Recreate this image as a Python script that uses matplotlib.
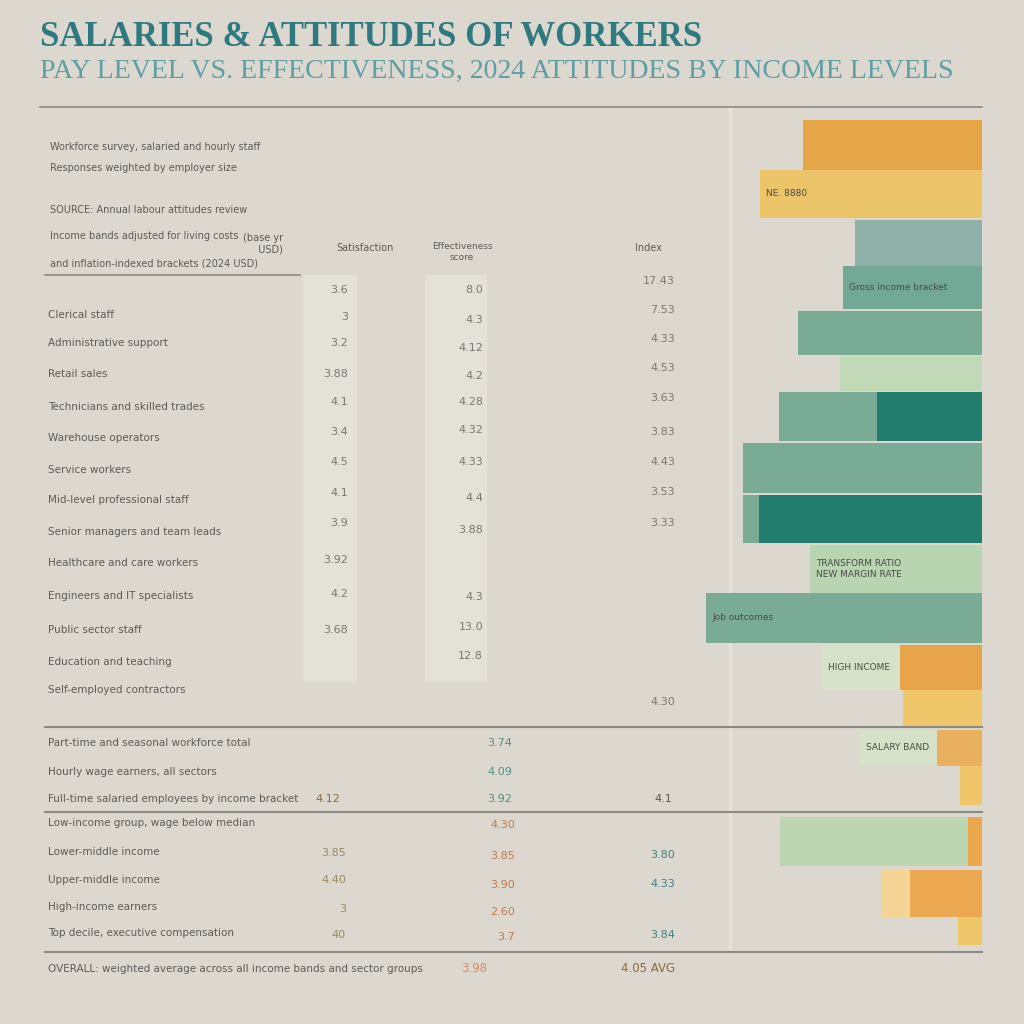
import matplotlib.pyplot as plt
import matplotlib.patches as mpatches

# ---- data ----
title = "SALARIES & ATTITUDES OF WORKERS"
subtitle = "PAY LEVEL VS. EFFECTIVENESS, 2024 ATTITUDES BY INCOME LEVELS"

notes = ["Workforce survey, salaried and hourly staff",
         "Responses weighted by employer size",
         "SOURCE: Annual labour attitudes review",
         "Income bands adjusted for living costs",
         "and inflation-indexed brackets (2024 USD)"]
note_box = "(base yr\n  USD)"

col_headers = ["Satisfaction", "Effectiveness\nscore", "Index"]

row_labels = ["Clerical staff", "Administrative support", "Retail sales",
              "Technicians and skilled trades", "Warehouse operators",
              "Service workers", "Mid-level professional staff",
              "Senior managers and team leads", "Healthcare and care workers",
              "Engineers and IT specialists", "Public sector staff",
              "Education and teaching", "Self-employed contractors"]
satisfaction = ["3.6", "3", "3.2", "3.88", "4.1", "3.4", "4.5", "4.1", "3.9",
                "3.92", "4.2", "3.68", ""]
effectiveness = ["8.0", "4.3", "4.12", "4.2", "4.28", "4.32", "4.33", "4.4",
                 "3.88", "", "4.3", "13.0", "12.8"]
index = ["17.43", "7.53", "4.33", "4.53", "3.63", "3.83", "4.43", "3.53",
         "3.33", "", "", "", "4.30"]

mid_labels = ["Part-time and seasonal workforce total",
              "Hourly wage earners, all sectors",
              "Full-time salaried employees by income bracket"]
mid_eff = ["3.74", "4.09", "3.92"]
mid_sat = ["", "", "4.12"]
mid_idx = ["", "", "4.1"]

low_labels = ["Low-income group, wage below median", "Lower-middle income",
              "Upper-middle income", "High-income earners",
              "Top decile, executive compensation"]
low_sat = ["3.85", "4.40", "3", "40"]
low_eff = ["4.30", "3.85", "3.90", "2.60", "3.7"]
low_idx = ["", "3.80", "4.33", "", "3.84"]

total_label = "OVERALL: weighted average across all income bands and sector groups"
total_eff = "3.98"
total_idx = "4.05 AVG"

# bars: (top px, bottom px, segments [(width, colour)])
bar_rows = [
    (120, 170, [(179, "#e5a64a")]),
    (170, 218, [(222, "#ecc56b")]),
    (220, 266, [(127, "#8fb0a8")]),
    (266, 309, [(139, "#72a896")]),
    (311, 355, [(184, "#7aab97")]),
    (356, 391, [(142, "#c2d9b8")]),
    (392, 441, [(203, "#7aab97"), (105, "#237d6e")]),
    (443, 493, [(239, "#7aab97")]),
    (495, 543, [(239, "#7aab97"), (223, "#237d6e")]),
    (545, 593, [(172, "#b8d4b0")]),
    (593, 643, [(276, "#7aab97")]),
    (645, 690, [(160, "#d5e2c8"), (82, "#e8a44a")]),
    (690, 727, [(79, "#f0c66a")]),
    (730, 766, [(122, "#d5e2c8"), (45, "#e9b060")]),
    (766, 805, [(22, "#f0c66a")]),
    (817, 866, [(202, "#bcd6b2"), (14, "#e9a84e")]),
    (870, 917, [(100, "#f3d596"), (72, "#eba850")]),
    (917, 945, [(24, "#f0c66a")]),
]
bar_notes = [(1, "NE. 8880"), (3, "Gross income bracket"),
             (9, "TRANSFORM RATIO\nNEW MARGIN RATE"), (10, "Job outcomes"),
             (11, "HIGH INCOME"), (13, "SALARY BAND")]

BG = "#dcd8cf"
INK = "#5a5a58"
TEAL = "#2e7a80"

fig = plt.figure(figsize=(10.24, 10.24), dpi=100, facecolor=BG)


def fx(x):
    return x / 1024


def fy(y):
    return 1 - y / 1024


def hline(y, x0, x1, lw=1.2, color="#8a8a86"):
    fig.add_artist(plt.Line2D([fx(x0), fx(x1)], [fy(y), fy(y)], lw=lw,
                              color=color, transform=fig.transFigure))


# titles
fig.text(fx(40), fy(38), title, fontsize=25, fontweight="bold",
         family="Liberation Serif", color=TEAL, va="center")
fig.text(fx(40), fy(71), subtitle, fontsize=20.1, family="Liberation Serif",
         color="#5f9ea5", va="center")

# rules
hline(107, 40, 982)
hline(275, 45, 300)
hline(727, 45, 982, lw=1.5)
hline(812, 45, 982, lw=1.5)
hline(952, 45, 982, lw=1.5)
fig.add_artist(plt.Line2D([fx(730), fx(730)], [fy(108), fy(950)], lw=2.5,
                          color="#e6e2da", transform=fig.transFigure,
                          zorder=-1))

# faint column panels
for x0, x1 in [(303, 356), (425, 486)]:
    fig.add_artist(mpatches.Rectangle((fx(x0), fy(680)), fx(x1 - x0),
                                      (680 - 275) / 1024, color="#e4e1d9",
                                      transform=fig.transFigure, zorder=-1))

# notes
for y, s in zip([147, 168, 210, 236, 263], notes):
    fig.text(fx(50), fy(y), s, fontsize=7, color=INK, va="center")
fig.text(fx(283), fy(244), note_box, fontsize=7, color=INK, ha="right",
         va="center")

# column headers
fig.text(fx(365), fy(248), col_headers[0], fontsize=7, color=INK,
         ha="center", va="center")
fig.text(fx(462), fy(252), col_headers[1], fontsize=6.5, color=INK,
         ha="center", va="center")
fig.text(fx(648), fy(248), col_headers[2], fontsize=7, color=INK,
         ha="center", va="center")

top_y = [315, 343, 374, 407, 438, 470, 500, 532, 563, 596, 630, 662, 690]
for y, lab in zip(top_y, row_labels):
    fig.text(fx(48), fy(y), lab, fontsize=7.5, color=INK, va="center")
sat_y = [290, 317, 343, 374, 402, 432, 462, 493, 523, 560, 594, 630, 662]
for y, v in zip(sat_y, satisfaction):
    fig.text(fx(348), fy(y), v, fontsize=8, color="#777773", ha="right",
             va="center")
eff_y = [290, 320, 348, 376, 402, 430, 462, 498, 530, 560, 597, 627, 656]
for y, v in zip(eff_y, effectiveness):
    fig.text(fx(483), fy(y), v, fontsize=8, color="#777773", ha="right",
             va="center")
idx_y = [281, 310, 339, 368, 398, 432, 462, 492, 523, 560, 630, 660, 702]
for y, v in zip(idx_y, index):
    fig.text(fx(675), fy(y), v, fontsize=8, color="#777773", ha="right",
             va="center")

for y, lab, e, s, ix in zip([743, 772, 799], mid_labels, mid_eff, mid_sat,
                            mid_idx):
    fig.text(fx(48), fy(y), lab, fontsize=7.5, color=INK, va="center")
    fig.text(fx(512), fy(y), e, fontsize=8, color="#4f8f86", ha="right",
             va="center")
    fig.text(fx(340), fy(y), s, fontsize=8, color="#8a6a3a", ha="right",
             va="center")
    fig.text(fx(672), fy(y), ix, fontsize=8, color=INK, ha="right",
             va="center")

for y, lab in zip([823, 852, 880, 907, 933], low_labels):
    fig.text(fx(48), fy(y), lab, fontsize=7.5, color=INK, va="center")
for y, s in zip([853, 880, 909, 935], low_sat):
    fig.text(fx(346), fy(y), s, fontsize=8, color="#9b8a5a", ha="right",
             va="center")
for y, e in zip([825, 856, 885, 912, 937], low_eff):
    fig.text(fx(515), fy(y), e, fontsize=8, color="#c07a4a", ha="right",
             va="center")
for y, ix in zip([825, 855, 884, 910, 935], low_idx):
    fig.text(fx(675), fy(y), ix, fontsize=8, color="#3f7f86", ha="right",
             va="center")

fig.text(fx(48), fy(969), total_label, fontsize=7.5, color=INK, va="center")
fig.text(fx(487), fy(969), total_eff, fontsize=8.5, color="#e08a4a",
         ha="right", va="center")
fig.text(fx(675), fy(969), total_idx, fontsize=8.5, color="#8a6a3a",
         ha="right", va="center")

# bar panel: bars grow leftwards from the right edge
ax = fig.add_axes([fx(700), fy(950), fx(282), (950 - 110) / 1024])
ax.set_facecolor("none")
for top, bot, segs in bar_rows:
    for w, c in segs:
        ax.barh((top + bot) / 2, w, height=bot - top, left=0, color=c,
                edgecolor="none")
ax.set_xlim(282, 0)
ax.set_ylim(950, 110)
for i, s in bar_notes:
    top, bot, segs = bar_rows[i]
    x = segs[0][0] - 6
    ax.text(x, (top + bot) / 2, s, fontsize=6.5, color="#4a4a48",
            ha="left", va="center")
ax.axis("off")

fig.savefig("out.png", dpi=100, facecolor=BG)
